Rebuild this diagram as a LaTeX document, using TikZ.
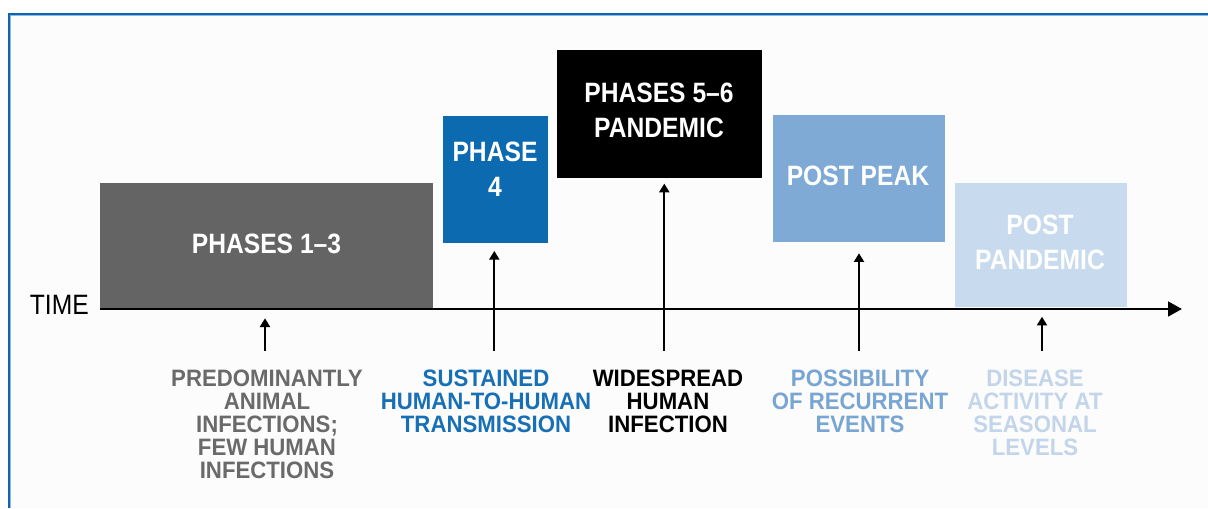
\documentclass[tikz,border=0pt]{standalone}
\usepackage{fontspec}
\setmainfont{Liberation Sans}
\newfontfamily\narrowfont{Liberation Sans}[FakeStretch=0.88, Ligatures=TeX]
\newfontfamily\captionfont{Liberation Sans}[FakeStretch=0.935, Ligatures=TeX]
\usetikzlibrary{arrows.meta}

\definecolor{framebl}{HTML}{0D65B0}
\definecolor{framelt}{HTML}{8DB9E2}
\definecolor{paper}{HTML}{FCFCFC}
\definecolor{grayph}{HTML}{646464}
\definecolor{graytx}{HTML}{6A6A6A}
\definecolor{blueph}{HTML}{0B6AB0}
\definecolor{bluetx}{HTML}{176FB6}
\definecolor{peakph}{HTML}{7EAAD5}
\definecolor{peaktx}{HTML}{78A5D2}
\definecolor{postph}{HTML}{C8DAEE}
\definecolor{posttx}{HTML}{C3D5EA}

\tikzset{
	phasebox/.style={rectangle, inner sep=0pt, draw=none},
	phasetitle/.style={text=white, align=center, inner sep=0pt, font=\narrowfont\bfseries\fontsize{21}{26.5}\selectfont},
	caption/.style={anchor=north, inner sep=0pt, align=center, font=\captionfont\bfseries\fontsize{17.8}{17.3}\selectfont},
	pointer/.style={line width=1.5pt, -{Triangle[length=6.5pt,width=7.5pt]}},
	timeline/.style={line width=2pt, -{Triangle[length=10.5pt,width=11pt]}}
}

\begin{document}
\begin{tikzpicture}[x=0.75pt, y=-0.75pt]
	\useasboundingbox (0,0) rectangle (1208,508);
	%frame
	\fill[paper] (8,13) rectangle (1208,508);
	\draw[framelt, line width=0.8pt] (10.5,508) -- (10.5,15.5) -- (1208,15.5);
	\draw[framebl, line width=1.5pt] (8.5,508) -- (8.5,13.5) -- (1208,13.5);
	%phase boxes
	\node[phasebox, fill=grayph, minimum width=249.4pt, minimum height=94pt] (p13) at (266.25,245.35) {};
	\node[phasebox, fill=blueph, minimum width=78.75pt, minimum height=95pt] (p4) at (495.2,179.35) {};
	\node[phasebox, fill=black, minimum width=153.75pt, minimum height=96pt] (p56) at (659.2,114) {};
	\node[phasebox, fill=peakph, minimum width=129pt, minimum height=95pt] (pp) at (859,178.35) {};
	\node[phasebox, fill=postph, minimum width=128.8pt, minimum height=93.2pt] (ppd) at (1040.85,244.85) {};
	%box titles
	\node[phasetitle] (t13) at (266.5,244) {PHASES 1--3};
	\node[phasetitle] (t4) at (495,169) {PHASE\\4};
	\node[phasetitle] (t56) at (659,110.5) {PHASES 5--6\\PANDEMIC};
	\node[phasetitle] (tpp) at (858,176) {POST PEAK};
	\node[phasetitle] (tppd) at (1040,242.5) {POST\\PANDEMIC};
	%time axis
	\coordinate (t0) at (100,309);
	\coordinate (t1) at (1182,309);
	\draw[timeline] (t0) -- (t1);
	\node[anchor=east, inner sep=0pt, font=\narrowfont\fontsize{21}{24}\selectfont] (time) at (89,305) {TIME};
	%captions
	\node[caption, text=graytx] (lab1) at (267,369.3) {PREDOMINANTLY\\ANIMAL\\INFECTIONS;\\FEW HUMAN\\INFECTIONS};
	\node[caption, text=bluetx] (lab2) at (486,369.3) {SUSTAINED\\HUMAN-TO-HUMAN\\TRANSMISSION};
	\node[caption, text=black] (lab3) at (668,369.3) {WIDESPREAD\\HUMAN\\INFECTION};
	\node[caption, text=peaktx] (lab4) at (860,369.3) {POSSIBILITY\\OF RECURRENT\\EVENTS};
	\node[caption, text=posttx] (lab5) at (1035,369.3) {DISEASE\\ACTIVITY AT\\SEASONAL\\LEVELS};
	%pointers
	\coordinate (f1) at (265,350.5);
	\coordinate (f2) at (494.3,350.5);
	\coordinate (f3) at (664.3,350.5);
	\coordinate (f4) at (859,350.5);
	\coordinate (f5) at (1042,350.5);
	\draw[pointer, shorten >=7pt] (f1) -- (f1 |- t0);
	\draw[pointer, shorten >=6pt] (f2) -- (f2 |- p4.south);
	\draw[pointer, shorten >=4pt] (f3) -- (f3 |- p56.south);
	\draw[pointer, shorten >=8.5pt] (f4) -- (f4 |- pp.south);
	\draw[pointer, shorten >=5.8pt] (f5) -- (f5 |- t0);
\end{tikzpicture}
\end{document}
